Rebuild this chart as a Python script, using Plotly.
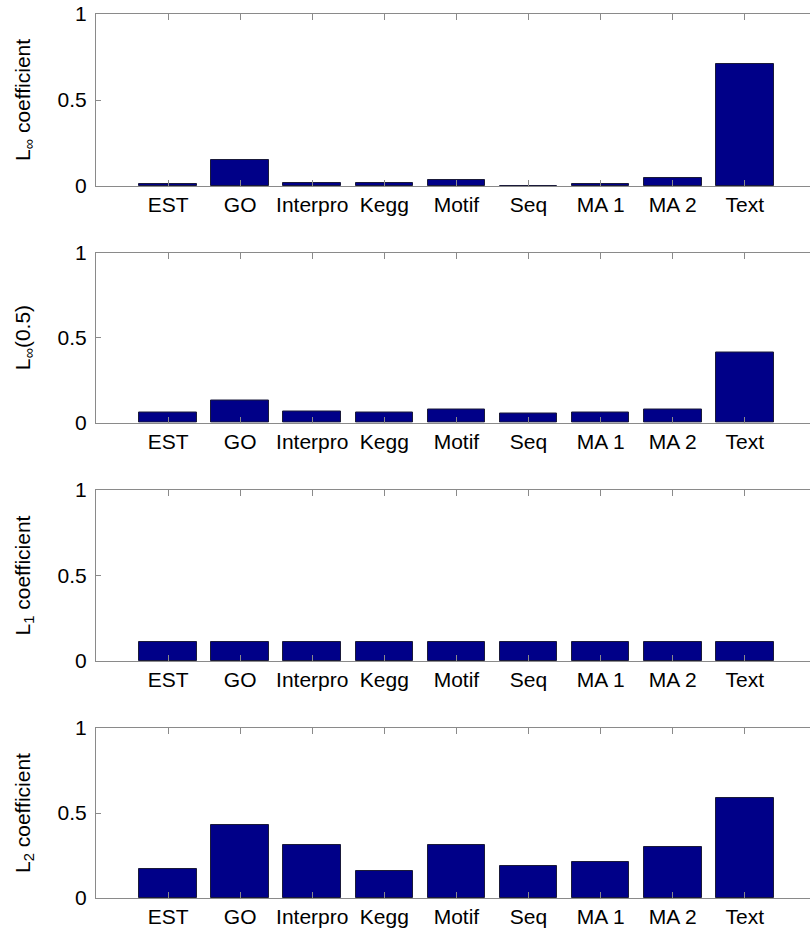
import plotly.graph_objects as go

categories = ["EST", "GO", "Interpro", "Kegg", "Motif", "Seq", "MA 1", "MA 2", "Text"]
positions = [1, 2, 3, 4, 5, 6, 7, 8, 9]

linf_coef = [0.013, 0.15, 0.02, 0.015, 0.035, 0.002, 0.01, 0.045, 0.707]
linf_05 = [0.059, 0.13, 0.065, 0.06, 0.075, 0.055, 0.06, 0.08, 0.41]
l1_coef = [0.111, 0.111, 0.111, 0.111, 0.111, 0.111, 0.111, 0.111, 0.111]
l2_coef = [0.17, 0.43, 0.31, 0.16, 0.31, 0.188, 0.21, 0.30, 0.588]

series = [linf_coef, linf_05, l1_coef, l2_coef]
titles = ["L<sub>∞</sub> coefficient", "L<sub>∞</sub>(0.5)",
          "L<sub>1</sub> coefficient", "L<sub>2</sub> coefficient"]
y_ticks = [0, 0.5, 1]
y_ticktext = ["0", "0.5", "1"]

W, H = 810, 932
# pixel extents of each panel (top, bottom)
panels_px = [(14, 186), (252.5, 422.7), (490, 661), (728, 898)]
left_px = 96

fig = go.Figure()
font_family = "Liberation Sans, Arial, sans-serif"
axis_color = "#8a8a8a"

for i, vals in enumerate(series):
    n = i + 1
    xa = "x" if n == 1 else f"x{n}"
    ya = "y" if n == 1 else f"y{n}"
    fig.add_trace(go.Bar(
        x=positions, y=vals, xaxis=xa, yaxis=ya, width=0.8,
        marker=dict(color="#000088", line=dict(color="#1a1a3a", width=1)),
        showlegend=False, hoverinfo="skip"))
    top, bot = panels_px[i]
    xkey = "xaxis" if n == 1 else f"xaxis{n}"
    ykey = "yaxis" if n == 1 else f"yaxis{n}"
    fig.layout[xkey] = dict(
        domain=[left_px / W, 1], range=[0, (W - left_px) / 72.09],
        anchor=ya, tickvals=positions, ticktext=categories,
        ticks="inside", ticklen=6, tickcolor=axis_color, tickwidth=1,
        showline=True, linecolor=axis_color, linewidth=1, mirror="ticks",
        showgrid=False, zeroline=False, automargin=False,
        tickfont=dict(family=font_family, size=21, color="black"),
        fixedrange=True)
    fig.layout[ykey] = dict(
        domain=[1 - bot / H, 1 - top / H], range=[0, 1],
        anchor=xa, tickvals=y_ticks, ticktext=y_ticktext,
        ticks="inside", ticklen=5, tickcolor=axis_color, tickwidth=1,
        showline=True, linecolor=axis_color, linewidth=1,
        showgrid=False, zeroline=False, automargin=False,
        ticklabelstandoff=4,
        tickfont=dict(family=font_family, size=21, color="black"),
        title=dict(text=titles[i], font=dict(family=font_family, size=21, color="black"),
                   standoff=21),
        fixedrange=True)

fig.update_layout(
    width=W, height=H,
    margin=dict(l=0, r=0, t=0, b=0, autoexpand=False),
    paper_bgcolor="white", plot_bgcolor="white",
    bargap=0, showlegend=False,
)

fig.write_html("out.html", config={"displayModeBar": False},
               post_script="document.body.style.margin='0';document.body.style.overflow='hidden';")
